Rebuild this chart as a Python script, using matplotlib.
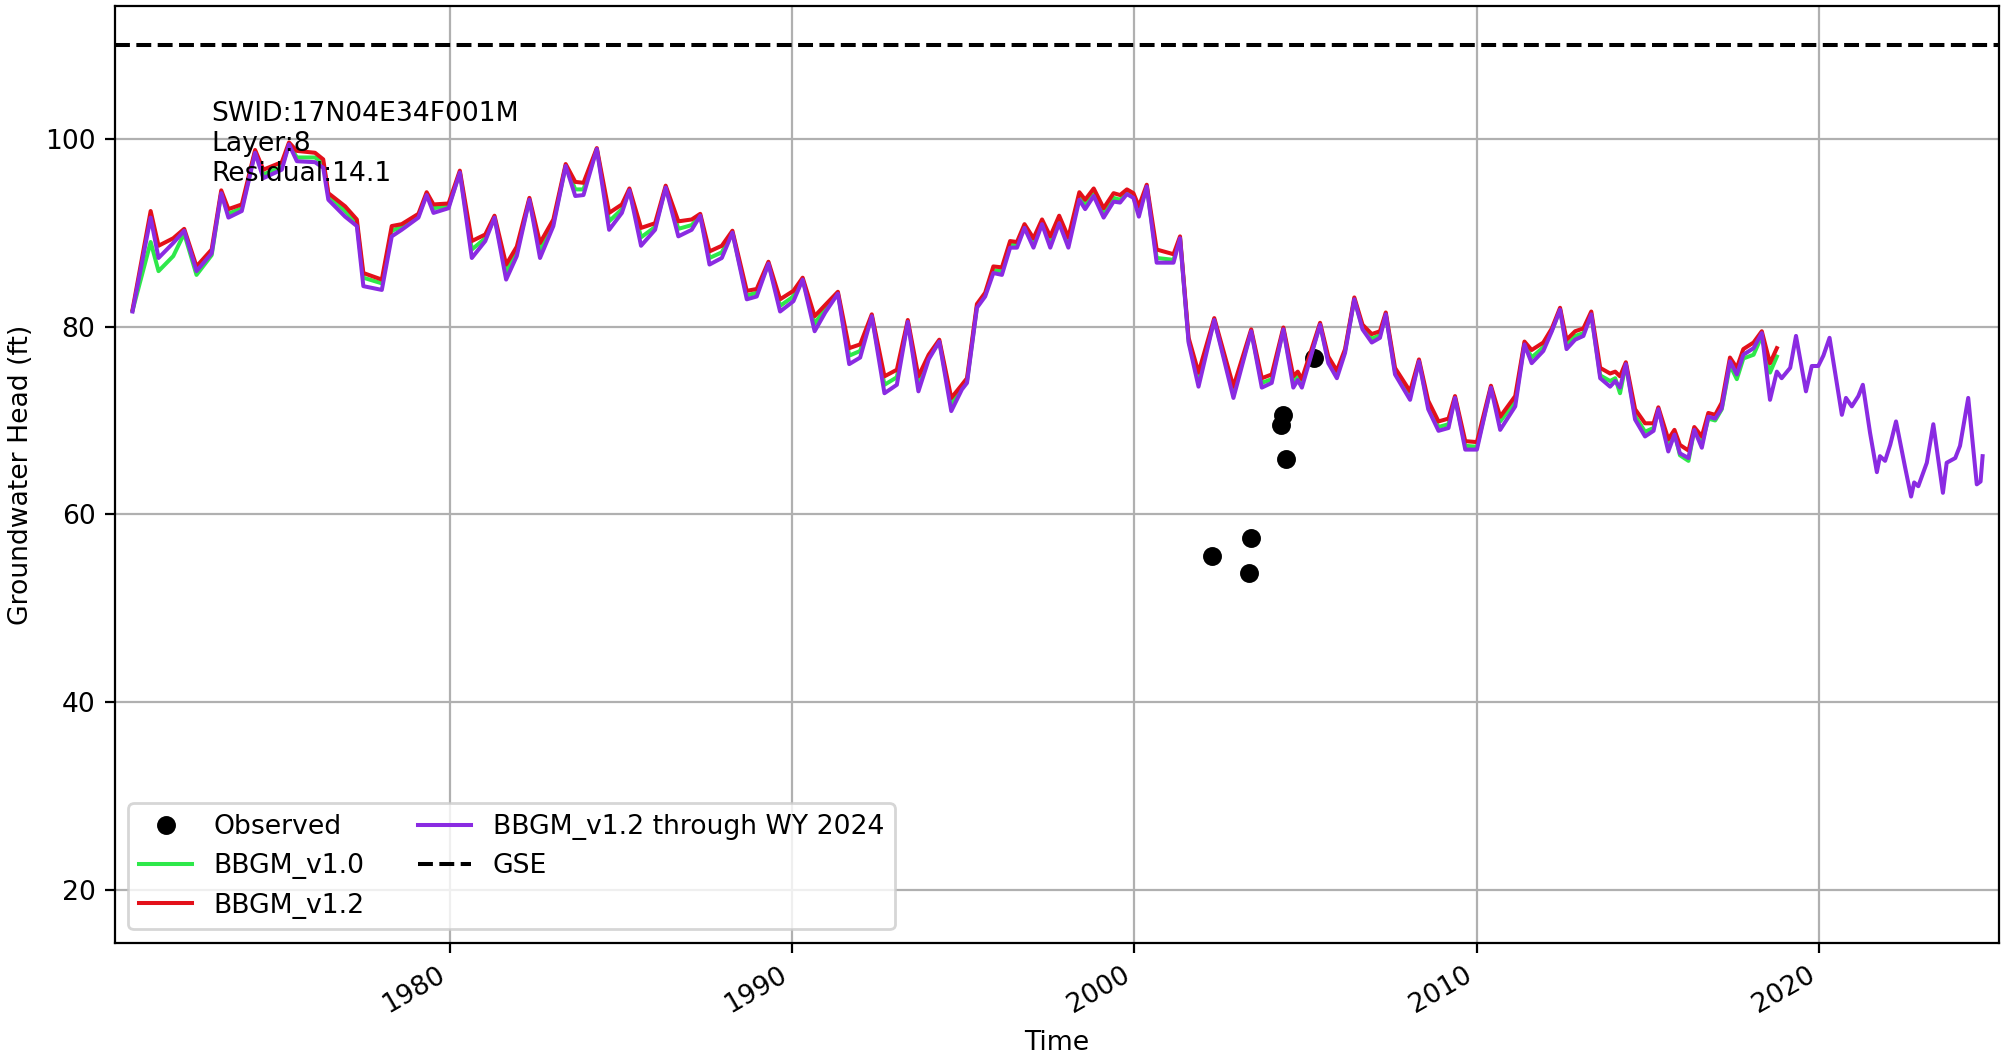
import datetime as dt
import matplotlib
matplotlib.use("Agg")
import matplotlib.pyplot as plt
import numpy as np


# model output times (decimal years) and heads (ft)
t_model = [1970.74, 1971.27, 1971.50, 1971.93, 1972.25, 1972.61, 1973.05, 1973.33, 1973.54, 1973.93,
           1974.32, 1974.56, 1975.10, 1975.31, 1975.54, 1976.07, 1976.31, 1976.46, 1976.95, 1977.29,
           1977.48, 1978.02, 1978.31, 1978.60, 1979.09, 1979.33, 1979.53, 1979.97, 1980.30, 1980.65,
           1981.04, 1981.31, 1981.65, 1981.96, 1982.33, 1982.64, 1983.03, 1983.39, 1983.67, 1983.91,
           1984.30, 1984.66, 1985.03, 1985.25, 1985.59, 1986.00, 1986.31, 1986.68, 1987.07, 1987.32,
           1987.59, 1987.95, 1988.26, 1988.68, 1988.97, 1989.31, 1989.65, 1990.04, 1990.31, 1990.66,
           1990.97, 1991.34, 1991.67, 1991.99, 1992.33, 1992.70, 1993.06, 1993.38, 1993.69, 1993.99,
           1994.30, 1994.65, 1994.96, 1995.11, 1995.40, 1995.64, 1995.88, 1996.13, 1996.37, 1996.57,
           1996.79, 1997.05, 1997.30, 1997.54, 1997.80, 1998.07, 1998.39, 1998.56, 1998.81, 1999.10,
           1999.39, 1999.58, 1999.78, 1999.97, 2000.13, 2000.36, 2000.65, 2001.14, 2001.33, 2001.58,
           2001.87, 2002.33, 2002.89, 2003.41, 2003.72, 2004.01, 2004.35, 2004.64, 2004.77, 2004.89,
           2005.42, 2005.66, 2005.91, 2006.15, 2006.42, 2006.66, 2006.93, 2007.17, 2007.34, 2007.61,
           2008.05, 2008.31, 2008.58, 2008.88, 2009.17, 2009.36, 2009.66, 2010.00, 2010.41, 2010.68,
           2011.12, 2011.39, 2011.60, 2011.94, 2012.19, 2012.43, 2012.62, 2012.87, 2013.11, 2013.34,
           2013.60, 2013.89, 2014.04, 2014.18, 2014.35, 2014.62, 2014.91, 2015.16, 2015.30, 2015.59,
           2015.77, 2015.93, 2016.18, 2016.35, 2016.57, 2016.76, 2016.96, 2017.15, 2017.39, 2017.59,
           2017.78, 2018.08, 2018.32, 2018.56, 2018.76]

v10 = [81.7, 89.0, 85.9, 87.5, 89.9, 85.5, 87.6, 94.2, 92.0, 92.6,
       98.6, 96.2, 97.0, 99.4, 98.0, 98.0, 97.4, 94.0, 92.3, 91.0,
       85.2, 84.6, 90.2, 90.6, 91.8, 94.1, 92.6, 92.8, 96.4, 88.2,
       89.4, 91.6, 85.8, 88.0, 93.5, 88.1, 91.0, 97.1, 94.6, 94.6,
       98.9, 91.2, 92.5, 94.5, 89.5, 90.6, 94.8, 90.4, 90.8, 91.8,
       87.3, 87.9, 90.0, 83.3, 83.6, 86.7, 82.2, 83.2, 85.0, 80.3,
       81.9, 83.5, 76.9, 77.4, 81.1, 73.8, 74.6, 80.5, 73.9, 76.7,
       78.4, 71.8, 73.5, 74.2, 82.1, 83.4, 86.0, 85.9, 88.7, 88.7,
       90.6, 88.9, 91.1, 89.0, 91.3, 88.9, 93.8, 93.0, 94.2, 92.1,
       93.7, 93.5, 94.3, 93.9, 92.2, 94.9, 87.3, 87.1, 89.4, 78.5,
       74.3, 80.7, 73.0, 79.5, 74.0, 74.4, 79.7, 74.1, 74.7, 73.9,
       80.2, 76.4, 74.9, 77.4, 82.9, 79.9, 78.7, 79.1, 81.3, 75.2,
       72.6, 76.3, 71.6, 69.3, 69.6, 72.4, 67.3, 67.2, 73.5, 69.9,
       72.0, 78.2, 76.7, 77.8, 79.6, 81.8, 78.0, 79.0, 79.3, 81.3,
       74.8, 74.2, 74.5, 72.9, 76.0, 70.5, 68.8, 69.2, 71.2, 67.2,
       68.7, 66.3, 65.7, 69.0, 67.5, 70.2, 70.0, 71.2, 75.9, 74.4,
       76.6, 77.0, 79.0, 75.1, 76.8]

v12 = [81.8, 92.3, 88.6, 89.4, 90.4, 86.4, 88.2, 94.5, 92.5, 93.0,
       98.8, 96.7, 97.5, 99.6, 98.7, 98.5, 97.8, 94.2, 92.8, 91.4,
       85.7, 85.0, 90.7, 90.9, 92.0, 94.3, 93.0, 93.1, 96.6, 89.1,
       89.8, 91.8, 86.6, 88.5, 93.7, 88.9, 91.4, 97.3, 95.4, 95.3,
       99.0, 92.1, 93.0, 94.7, 90.5, 91.0, 95.0, 91.2, 91.4, 92.0,
       88.0, 88.6, 90.2, 83.8, 84.0, 86.9, 82.9, 83.8, 85.2, 81.1,
       82.3, 83.7, 77.7, 78.1, 81.3, 74.7, 75.4, 80.7, 74.7, 77.0,
       78.6, 72.4, 73.8, 74.5, 82.4, 83.6, 86.4, 86.3, 89.1, 89.0,
       90.9, 89.4, 91.4, 89.6, 91.8, 89.5, 94.3, 93.5, 94.7, 92.6,
       94.2, 94.0, 94.6, 94.2, 92.8, 95.1, 88.2, 87.7, 89.6, 78.8,
       75.1, 80.9, 73.6, 79.7, 74.5, 74.9, 79.9, 74.7, 75.2, 74.4,
       80.4, 76.8, 75.3, 77.6, 83.1, 80.2, 79.2, 79.5, 81.5, 75.6,
       73.1, 76.5, 72.1, 69.9, 70.2, 72.6, 67.8, 67.7, 73.7, 70.4,
       72.6, 78.4, 77.5, 78.3, 79.8, 82.0, 78.6, 79.5, 79.8, 81.6,
       75.6, 75.0, 75.2, 74.7, 76.2, 71.2, 69.7, 69.7, 71.4, 68.0,
       69.0, 67.4, 66.8, 69.3, 68.3, 70.8, 70.6, 71.9, 76.7, 75.6,
       77.6, 78.3, 79.5, 76.1, 77.7]

v12_hist = [81.6, 91.6, 87.3, 88.9, 90.2, 85.9, 87.8, 94.2, 91.6, 92.3,
            98.5, 95.8, 96.7, 99.4, 97.6, 97.5, 96.9, 93.5, 91.7, 90.7,
            84.3, 83.9, 89.6, 90.3, 91.6, 94.0, 92.1, 92.6, 96.4, 87.3,
            89.1, 91.6, 85.0, 87.5, 93.5, 87.3, 90.7, 97.1, 93.9, 94.0,
            98.9, 90.3, 92.1, 94.5, 88.6, 90.3, 94.8, 89.6, 90.3, 91.8,
            86.6, 87.3, 90.0, 82.9, 83.2, 86.7, 81.6, 82.7, 85.0, 79.5,
            81.5, 83.5, 76.0, 76.7, 81.1, 72.9, 73.8, 80.5, 73.1, 76.5,
            78.4, 71.0, 73.3, 74.0, 82.0, 83.2, 85.7, 85.5, 88.4, 88.4,
            90.5, 88.4, 90.9, 88.4, 91.0, 88.4, 93.5, 92.5, 93.9, 91.6,
            93.3, 93.2, 94.1, 93.7, 91.7, 94.9, 86.8, 86.8, 89.4, 78.3,
            73.6, 80.7, 72.4, 79.5, 73.5, 74.0, 79.7, 73.5, 74.3, 73.5,
            80.2, 76.1, 74.5, 77.2, 82.9, 79.7, 78.3, 78.8, 81.3, 74.9,
            72.2, 76.3, 71.2, 68.9, 69.2, 72.4, 66.9, 66.9, 73.5, 69.0,
            71.5, 78.1, 76.1, 77.4, 79.5, 81.8, 77.6, 78.6, 79.0, 81.3,
            74.5, 73.6, 74.2, 73.5, 76.0, 70.1, 68.3, 68.9, 71.2, 66.7,
            68.5, 66.5, 66.0, 69.0, 67.1, 70.4, 70.2, 71.3, 76.3, 74.9,
            77.0, 77.7, 79.3, 72.2, 75.2]

# v1.2 run extended through WY 2024
t_ext = [2018.90, 2019.15, 2019.32, 2019.61, 2019.78, 2019.97, 2020.12, 2020.30, 2020.66, 2020.78,
         2020.95, 2021.14, 2021.27, 2021.48, 2021.68, 2021.77, 2021.92, 2022.07, 2022.24, 2022.50,
         2022.68, 2022.77, 2022.89, 2023.14, 2023.33, 2023.61, 2023.72, 2023.97, 2024.11, 2024.35,
         2024.60, 2024.71, 2024.77]
v12_ext = [74.5, 75.6, 79.0, 73.1, 75.8, 75.8, 76.9, 78.8, 70.6, 72.4,
           71.5, 72.6, 73.8, 68.7, 64.5, 66.2, 65.7, 67.4, 69.9, 65.1,
           61.9, 63.4, 63.0, 65.5, 69.6, 62.3, 65.5, 66.0, 67.3, 72.4,
           63.2, 63.5, 66.2]

t_obs = [2002.26, 2003.35, 2003.40, 2004.27, 2004.35, 2004.43, 2005.25]
h_obs = [55.6, 53.8, 57.5, 69.5, 70.6, 65.9, 76.7]

gse = 110.0
info = "SWID:17N04E34F001M\nLayer:8\nResidual:14.1"


def to_dates(years):
    out = []
    for y in years:
        yr = int(y)
        out.append(dt.datetime(yr, 1, 1) + dt.timedelta(days=(y - yr) * 365.25))
    return out


def main():
    plt.rcParams['font.size'] = 9.6
    fig = plt.figure(figsize=(10.015, 5.285), dpi=200)
    ax = fig.add_axes([0.0574, 0.1081, 0.9406, 0.886])

    d_model = to_dates(t_model)
    d_full = to_dates(t_model + t_ext)

    ax.plot(to_dates(t_obs), h_obs, 'o', color='black', markersize=5.8, label='Observed')
    ax.plot(d_model, v10, color='#2ee84a', lw=1.45, label='BBGM_v1.0')
    ax.plot(d_model, v12, color='#e3101a', lw=1.45, label='BBGM_v1.2')
    ax.plot(d_full, v12_hist + v12_ext, color='#8a2be2', lw=1.45,
            label='BBGM_v1.2 through WY 2024')
    ax.axhline(gse, color='black', ls='--', lw=1.45, label='GSE')

    ax.set_xlim(dt.datetime(1970, 3, 25), dt.datetime(2025, 4, 1))
    ax.set_ylim(14.4, 114.1)
    ax.set_yticks([20, 40, 60, 80, 100])

    ax.text(0.051, 0.899, info, transform=ax.transAxes, va='top', ha='left')

    ax.set_xlabel("Time")
    ax.set_ylabel("Groundwater Head (ft)")
    ax.grid(True)
    ax.legend(loc='lower left', ncol=2)

    for lbl in ax.get_xticklabels():
        lbl.set_rotation(30)
        lbl.set_ha('right')

    fig.savefig("out.png", dpi=200)


if __name__ == "__main__":
    main()
